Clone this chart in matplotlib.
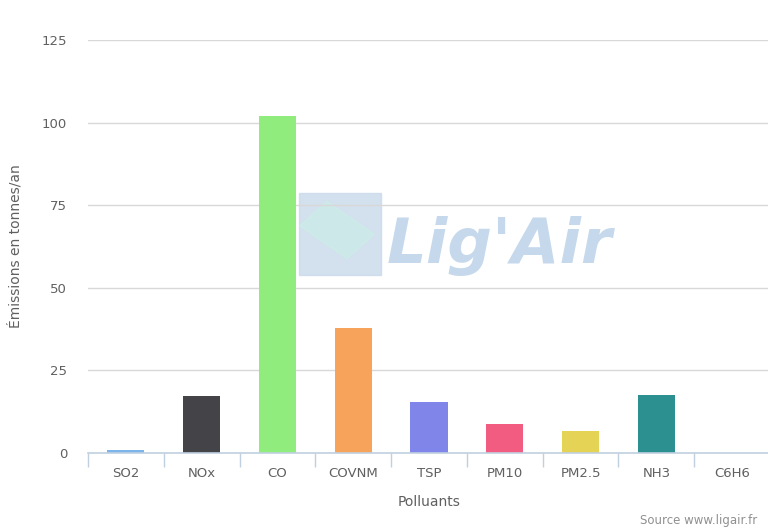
import matplotlib
matplotlib.use('Agg')
import matplotlib.pyplot as plt
from matplotlib.patches import Rectangle, Polygon

polluants = ['SO2', 'NOx', 'CO', 'COVNM', 'TSP', 'PM10', 'PM2.5', 'NH3', 'C6H6']
emissions = [1.0, 17.2, 102.0, 37.9, 15.5, 8.8, 6.8, 17.6, 0.0]
colors = ['#7cb5ec', '#434348', '#90ed7d', '#f7a35c', '#8085e9',
          '#f15c80', '#e4d354', '#2b908f', '#f45b5b']
yticks = [0, 25, 50, 75, 100, 125]

plt.rcParams['font.family'] = ['DejaVu Sans']

fig = plt.figure(figsize=(7.68, 5.29), dpi=100)
ax = fig.add_axes([88 / 768, 76 / 529, 682 / 768, 413 / 529])

x = list(range(len(polluants)))
ax.bar(x, emissions, width=0.49, color=colors, zorder=3)

ax.set_xlim(-0.5, len(polluants) - 0.5)
ax.set_ylim(0, 125)
ax.set_yticks(yticks)
ax.set_yticklabels([str(v) for v in yticks], color='#606060', fontsize=9.5)
ax.yaxis.grid(True, color='#d8d8d8', linewidth=1, zorder=0)
ax.tick_params(axis='y', length=0, pad=15)

ax.set_xticks(x)
ax.set_xticklabels(polluants, color='#606060', fontsize=9.5)
ax.set_xticks([i - 0.5 for i in range(len(polluants) + 1)], minor=True)
ax.tick_params(axis='x', which='major', length=0, pad=10)
ax.tick_params(axis='x', which='minor', length=10, color='#c0d0e0', width=1)

for s in ['top', 'right', 'left']:
    ax.spines[s].set_visible(False)
ax.spines['bottom'].set_color('#c0d0e0')
ax.spines['bottom'].set_linewidth(1.2)
ax.spines['bottom'].set_zorder(4)

ax.set_xlabel('Polluants', color='#606060', fontsize=10, labelpad=11)
ax.set_ylabel('Émissions en tonnes/an', color='#606060', fontsize=10, labelpad=14)

# watermark logo (approximate)
ax.add_patch(Rectangle((0.31, 0.43), 0.12, 0.2,
                       transform=ax.transAxes, color='#c9d9ea', alpha=0.8, zorder=1))
ax.add_patch(Polygon([(0.31, 0.55), (0.35, 0.61), (0.42, 0.53), (0.38, 0.47)],
                     transform=ax.transAxes, color='#cdeae8', alpha=0.9, zorder=1))
ax.text(0.438, 0.50, "Lig'Air", transform=ax.transAxes, fontsize=45,
        fontweight='bold', fontstyle='italic', color='#bcd2e8', alpha=0.85,
        zorder=1, va='center', ha='left')

fig.text(640 / 768, 0.003, 'Source www.ligair.fr', color='#909090', fontsize=8.5,
         ha='left', va='bottom')

fig.savefig('out.png', dpi=100)
